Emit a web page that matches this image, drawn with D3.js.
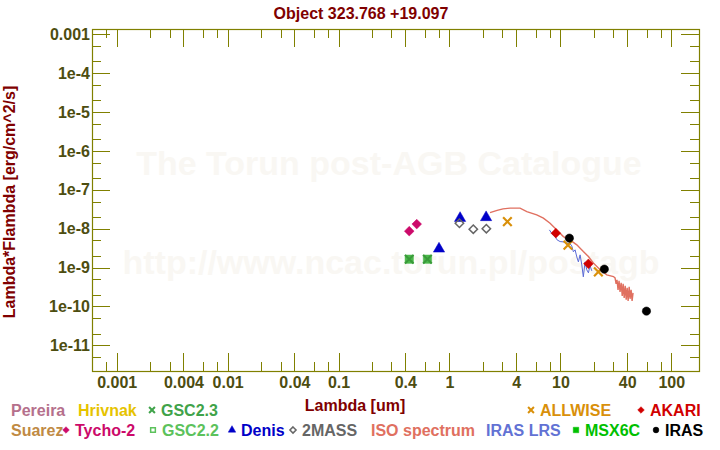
<!DOCTYPE html>
<html><head><meta charset="utf-8">
<script src="https://cdn.jsdelivr.net/npm/d3@7"></script>
<style>
body{margin:0;background:#fff}
text{font-family:"Liberation Sans",Arial,sans-serif;font-weight:bold}
</style></head>
<body><svg id="chart" width="720" height="450"></svg>
<script>
// ---- data (wavelength um, lambda*F_lambda erg/cm^2/s) ----
const tycho2Lam = [0.434, 0.507];
const tycho2Flux = [8.63e-9, 1.31e-8];
const gsc22Lam = [0.434, 0.633];
const gsc22Flux = [1.64e-9, 1.64e-9];
const gsc23Lam = [0.434, 0.633];
const gsc23Flux = [1.64e-9, 1.64e-9];
const denisLam = [0.805, 1.247, 2.14];
const denisFlux = [3.03e-9, 1.86e-8, 1.95e-8];
const twomassLam = [1.23, 1.64, 2.15];
const twomassFlux = [1.38e-8, 9.7e-9, 1.0e-8];
const allwiseLam = [3.33, 11.7, 22.0];
const allwiseFlux = [1.52e-8, 3.77e-9, 7.75e-10];
const akariLam = [9.1, 17.9];
const akariFlux = [7.66e-9, 1.25e-9];
const irasLam = [12.05, 24.9, 59.7];
const irasFlux = [5.70e-9, 9.10e-10, 7.57e-11];
const isoLam = [2.32, 2.69, 3.04, 3.52, 4.33, 4.98, 6.12, 7.03, 8.07, 8.96, 10.64, 12.2, 14.06, 16.1, 17.9, 19.9, 22.8, 26.2, 30.1,
  31.1, 31.8, 32.4, 33.1, 33.8, 34.5, 35.3, 36.1, 36.8, 37.6, 38.4, 39.2, 40.0, 40.8, 41.7, 42.5, 43.4, 44.3, 45.2];
const isoFlux = [2.59e-8, 2.95e-8, 3.23e-8, 3.37e-8, 3.37e-8, 2.75e-8, 2.26e-8, 1.86e-8, 1.38e-8, 1.03e-8, 6.27e-9, 5.15e-9, 3.84e-9, 2.58e-9, 1.92e-9, 1.30e-9, 8.73e-10, 6.49e-10, 5.87e-10,
  5.43e-10, 3.81e-10, 4.83e-10, 2.67e-10, 4.55e-10, 2.37e-10, 4.05e-10, 1.87e-10, 3.81e-10, 1.66e-10, 3.39e-10, 1.48e-10, 3.01e-10, 1.39e-10, 3.19e-10, 1.57e-10, 2.67e-10, 1.39e-10, 2.24e-10];
const lrsLam = [7.96, 8.41, 8.96, 9.34, 9.94, 10.57, 11.43, 12.24, 12.67, 13.1, 13.58, 14.06, 14.53, 15.06, 15.6, 16.1, 16.7, 17.3, 17.9, 18.5, 19.2];
const lrsFlux = [9.31e-9, 7.35e-9, 6.27e-9, 5.15e-9, 4.66e-9, 4.58e-9, 4.24e-9, 4.07e-9, 3.61e-9, 2.54e-9, 2.85e-9, 1.88e-9, 1.40e-9, 2.12e-9, 1.17e-9, 5.77e-10, 1.40e-9, 8.73e-10, 7.31e-10, 1.11e-9, 8.22e-10];

const xMajorTicks = [0.001, 0.004, 0.01, 0.04, 0.1, 0.4, 1, 4, 10, 40, 100];
const xTickLabels = ["0.001", "0.004", "0.01", "0.04", "0.1", "0.4", "1", "4", "10", "40", "100"];
const xMinorTicks = [0.0008, 0.002, 0.003, 0.006, 0.008, 0.02, 0.03, 0.06, 0.08, 0.2, 0.3, 0.6, 0.8, 2, 3, 6, 8, 20, 30, 60, 80];
const yMajorTicks = [1e-3, 1e-4, 1e-5, 1e-6, 1e-7, 1e-8, 1e-9, 1e-10, 1e-11];
const yTickLabels = ["0.001", "1e-4", "1e-5", "1e-6", "1e-7", "1e-8", "1e-9", "1e-10", "1e-11"];
const yMinorTicks = [5e-4, 2e-4, 5e-5, 2e-5, 5e-6, 2e-6, 5e-7, 2e-7, 5e-8, 2e-8, 5e-9, 2e-9, 5e-10, 2e-10, 5e-11, 2e-11, 5e-12];

const titleText = "Object 323.768 +19.097";
const xLabel = "Lambda [um]";
const yLabel = "Lambda*Flambda [erg/cm^2/s]";
const watermark1 = "The Torun post-AGB Catalogue";
const watermark2 = "http://www.ncac.torun.pl/postagb";

const legendRow1 = [
  {name:"Pereira", color:"#b5708c", sym:null, x:11},
  {name:"Hrivnak", color:"#e6c300", sym:null, x:78},
  {name:"GSC2.3", color:"#3fa34a", sym:"x", x:161},
  {name:"ALLWISE", color:"#d9900a", sym:"x", x:540},
  {name:"AKARI", color:"#d10000", sym:"diamond", x:650}
];
const legendRow2 = [
  {name:"Suarez", color:"#c08a44", sym:null, x:11},
  {name:"Tycho-2", color:"#cc0a6a", sym:"diamond", x:75},
  {name:"GSC2.2", color:"#5cc25c", sym:"square", x:162},
  {name:"Denis", color:"#0000c8", sym:"triangle", x:241},
  {name:"2MASS", color:"#666666", sym:"odiamond", x:302},
  {name:"ISO spectrum", color:"#e07060", sym:null, x:371},
  {name:"IRAS LRS", color:"#6272d4", sym:null, x:486},
  {name:"MSX6C", color:"#00c000", sym:"fsquare", x:585},
  {name:"IRAS", color:"#000000", sym:"circle", x:665}
];

// ---- layout ----
const W = 720, H = 450;
const L = 92, R = 699, T = 29, B = 371;
const svg = d3.select("#chart");
svg.append("rect").attr("width", W).attr("height", H).attr("fill", "#fff");

const x = d3.scaleLog().domain([5.99e-4, 177.7]).range([L, R]);
const y = d3.scaleLog().domain([2.183e-12, 1.368e-3]).range([B, T]);

const axisCol = "#808000", tickTextCol = "#4d4d10", labelCol = "#800000";

// watermark
svg.append("text").attr("x", 389).attr("y", 175).attr("text-anchor", "middle")
  .style("font-size", "34px").attr("fill", "#f9f7f3").text(watermark1);
svg.append("text").attr("x", 391).attr("y", 274).attr("text-anchor", "middle")
  .style("font-size", "34px").attr("fill", "#f9f7f3").text(watermark2);

// axes
function styleAxis(g){
  g.select(".domain").remove();
  g.selectAll(".tick line").attr("stroke", axisCol).attr("stroke-width", 1).attr("shape-rendering", "crispEdges");
  g.selectAll(".tick text").attr("fill", tickTextCol).style("font-size", "16px").style("font-family", "'Liberation Sans',Arial,sans-serif").style("font-weight", "bold");
}
const fmtX = v => xTickLabels[xMajorTicks.indexOf(v)];
const fmtY = v => yTickLabels[yMajorTicks.indexOf(v)];

svg.append("g").attr("transform", `translate(0,${B})`)
  .call(d3.axisBottom(x).tickValues(xMajorTicks).tickSize(-18).tickPadding(6).tickFormat(fmtX)).call(styleAxis);
svg.append("g").attr("transform", `translate(0,${B})`)
  .call(d3.axisBottom(x).tickValues(xMinorTicks).tickSize(-9).tickFormat("")).call(styleAxis);
svg.append("g").attr("transform", `translate(0,${T})`)
  .call(d3.axisTop(x).tickValues(xMajorTicks).tickSize(-18).tickFormat("")).call(styleAxis);
svg.append("g").attr("transform", `translate(0,${T})`)
  .call(d3.axisTop(x).tickValues(xMinorTicks).tickSize(-9).tickFormat("")).call(styleAxis);
svg.append("g").attr("transform", `translate(${L},0)`)
  .call(d3.axisLeft(y).tickValues(yMajorTicks).tickSize(-18).tickPadding(2).tickFormat(fmtY)).call(styleAxis);
svg.append("g").attr("transform", `translate(${L},0)`)
  .call(d3.axisLeft(y).tickValues(yMinorTicks).tickSize(-9).tickFormat("")).call(styleAxis);
svg.append("g").attr("transform", `translate(${R},0)`)
  .call(d3.axisRight(y).tickValues(yMajorTicks).tickSize(-18).tickFormat("")).call(styleAxis);
svg.append("g").attr("transform", `translate(${R},0)`)
  .call(d3.axisRight(y).tickValues(yMinorTicks).tickSize(-9).tickFormat("")).call(styleAxis);

svg.append("rect").attr("x", L + 0.5).attr("y", T + 0.5).attr("width", R - L).attr("height", B - T)
  .attr("fill", "none").attr("stroke", axisCol).attr("stroke-width", 1.2);

// titles
svg.append("text").attr("x", 361).attr("y", 19).attr("text-anchor", "middle").attr("fill", labelCol)
  .style("font-size", "16px").text(titleText);
svg.append("text").attr("x", 355).attr("y", 411).attr("text-anchor", "middle").attr("fill", labelCol)
  .style("font-size", "16px").text(xLabel);
svg.append("text").attr("transform", "translate(15,202) rotate(-90)").attr("text-anchor", "middle").attr("fill", labelCol)
  .style("font-size", "16px").text(yLabel);

// plot lines
const zip = (a, b) => a.map((v, i) => [v, b[i]]);
const line = d3.line().x(d => x(d[0])).y(d => y(d[1]));
svg.append("path").attr("d", line(zip(lrsLam, lrsFlux))).attr("fill", "none").attr("stroke", "#5a6ad6").attr("stroke-width", 1);
svg.append("path").attr("d", line(zip(isoLam, isoFlux))).attr("fill", "none").attr("stroke", "#e07060").attr("stroke-width", 1.4);

// markers
const sym = {
  diamond: d3.symbol().type(d3.symbolDiamond2).size(60),
  odiamond: d3.symbol().type(d3.symbolDiamond2).size(45),
  triangle: d3.symbol().type(d3.symbolTriangle).size(55),
  square: d3.symbol().type(d3.symbolSquare).size(70),
  circle: d3.symbol().type(d3.symbolCircle).size(55),
  x: d3.symbol().type(d3.symbolX).size(50)
};
function pts(lam, flux, type, color, filled, sw){
  svg.append("g").selectAll("path").data(zip(lam, flux)).join("path")
    .attr("transform", d => `translate(${x(d[0])},${y(d[1])})`)
    .attr("d", sym[type])
    .attr("fill", filled ? color : "none")
    .attr("stroke", color).attr("stroke-width", sw);
}
pts(gsc22Lam, gsc22Flux, "square", "#4cb84c", true, 0.5);
pts(gsc23Lam, gsc23Flux, "x", "#3a9a3a", false, 2);
pts(tycho2Lam, tycho2Flux, "diamond", "#cc0a6a", true, 0.5);
pts(denisLam, denisFlux, "triangle", "#0000c8", true, 0.5);
pts(twomassLam, twomassFlux, "odiamond", "#666666", false, 1.5);
pts(allwiseLam, allwiseFlux, "x", "#d9900a", false, 2.2);
pts(akariLam, akariFlux, "diamond", "#d10000", true, 0.5);
pts(irasLam, irasFlux, "circle", "#000000", true, 0.5);

// legend
const legSym = {
  x: d3.symbol().type(d3.symbolX).size(24),
  diamond: d3.symbol().type(d3.symbolDiamond2).size(28),
  odiamond: d3.symbol().type(d3.symbolDiamond2).size(24),
  square: d3.symbol().type(d3.symbolSquare).size(22),
  fsquare: d3.symbol().type(d3.symbolSquare).size(30),
  triangle: d3.symbol().type(d3.symbolTriangle).size(24),
  circle: d3.symbol().type(d3.symbolCircle).size(26)
};
function legendRow(items, baseline){
  items.forEach(it => {
    svg.append("text").attr("x", it.x).attr("y", baseline).attr("fill", it.color)
      .style("font-size", "16px").text(it.name);
    if (it.sym) {
      const filled = ["diamond", "fsquare", "triangle", "circle"].includes(it.sym);
      svg.append("path").attr("d", legSym[it.sym])
        .attr("transform", `translate(${it.x - 9},${baseline - 6})`)
        .attr("fill", filled ? it.color : "none").attr("stroke", it.color)
        .attr("stroke-width", it.sym === "x" ? 2 : (filled ? 0.5 : 1.5));
    }
  });
}
legendRow(legendRow1, 416);
legendRow(legendRow2, 436);
</script></body></html>
